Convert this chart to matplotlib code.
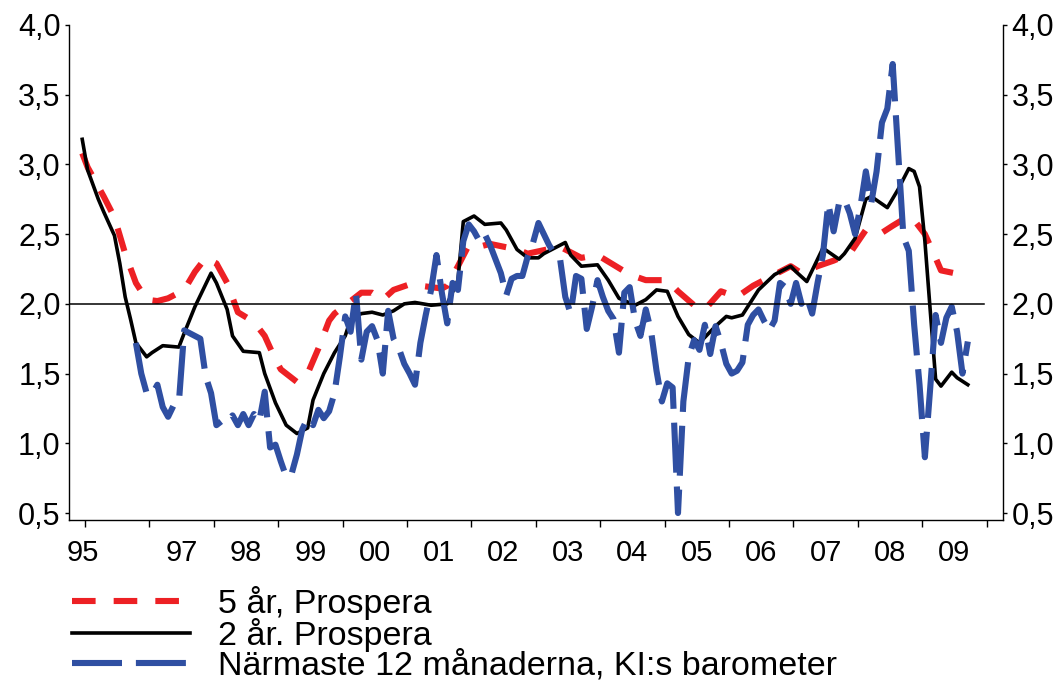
import matplotlib
matplotlib.use("Agg")
import matplotlib.pyplot as plt
from matplotlib.ticker import FixedLocator

plt.rcParams.update({
    "font.family": ["Liberation Sans", "DejaVu Sans"],
    "lines.scale_dashes": False,
})

RED = "#ED2024"
BLUE = "#2F4FA2"
BLACK = "#000000"

# ── Series (monthly observations, "YYYY-MM") ────────────────────────────────
# 5-year expectations, Prospera
red_dates = ["1995-12", "1996-01", "1996-04", "1996-06", "1996-08", "1996-10", "1996-12",
             "1997-02", "1997-04", "1997-07", "1997-09", "1997-11", "1998-01", "1998-03",
             "1998-05", "1998-08", "1998-10", "1998-12", "1999-01", "1999-04", "1999-06",
             "1999-08", "1999-10", "1999-11", "2000-01", "2000-04", "2000-06", "2000-08",
             "2000-10", "2001-01", "2001-07", "2001-08", "2001-10", "2001-12", "2002-02",
             "2002-04", "2002-09", "2002-11", "2003-05", "2003-09", "2003-12", "2004-06",
             "2004-09", "2005-01", "2005-03", "2005-06", "2005-08", "2005-11", "2006-02",
             "2006-05", "2006-08", "2006-12", "2007-02", "2007-05", "2007-08", "2007-11",
             "2008-02", "2008-05", "2008-07", "2008-10", "2008-11", "2009-01", "2009-03",
             "2009-04", "2009-09"]
red_vals = [3.08, 2.98, 2.77, 2.62, 2.36, 2.15, 2.03,
            2.02, 2.04, 2.10, 2.23, 2.33, 2.29, 2.15,
            1.94, 1.87, 1.77, 1.60, 1.53, 1.44, 1.50,
            1.68, 1.88, 1.93, 1.99, 2.08, 2.08, 2.03,
            2.10, 2.14, 2.11, 2.13, 2.27, 2.42, 2.41,
            2.43, 2.39, 2.36, 2.41, 2.33, 2.35, 2.21,
            2.17, 2.17, 2.09, 1.99, 1.96, 2.09, 2.05,
            2.13, 2.19, 2.27, 2.22, 2.27, 2.31, 2.36,
            2.53, 2.51, 2.56, 2.63, 2.60, 2.50, 2.33,
            2.24, 2.20]

# 2-year expectations, Prospera
black_dates = ["1995-12", "1996-01", "1996-03", "1996-04", "1996-06", "1996-07", "1996-08",
               "1996-09", "1996-10", "1996-12", "1997-01", "1997-03", "1997-06", "1997-07",
               "1997-09", "1997-12", "1998-01", "1998-03", "1998-04", "1998-06", "1998-09",
               "1998-10", "1998-12", "1999-02", "1999-04", "1999-06", "1999-07", "1999-09",
               "1999-11", "2000-01", "2000-02", "2000-04", "2000-06", "2000-08", "2000-10",
               "2000-12", "2001-02", "2001-05", "2001-08", "2001-10", "2001-11", "2002-01",
               "2002-03", "2002-06", "2002-07", "2002-09", "2002-11", "2003-01", "2003-02",
               "2003-04", "2003-06", "2003-07", "2003-09", "2003-12", "2004-02", "2004-04",
               "2004-07", "2004-09", "2004-11", "2005-01", "2005-03", "2005-05", "2005-07",
               "2005-10", "2005-12", "2006-01", "2006-03", "2006-06", "2006-09", "2006-12",
               "2007-01", "2007-03", "2007-06", "2007-09", "2007-10", "2007-12", "2008-02",
               "2008-03", "2008-06", "2008-08", "2008-10", "2008-11", "2008-12", "2009-01",
               "2009-02", "2009-03", "2009-04", "2009-06", "2009-07", "2009-09"]
black_vals = [3.18, 2.96, 2.75, 2.66, 2.49, 2.29, 2.05,
              1.89, 1.72, 1.62, 1.65, 1.70, 1.69, 1.79,
              1.98, 2.22, 2.15, 1.96, 1.77, 1.66, 1.65,
              1.50, 1.29, 1.13, 1.07, 1.11, 1.31, 1.50,
              1.65, 1.77, 1.89, 1.93, 1.94, 1.92, 1.95,
              2.00, 2.01, 1.99, 2.00, 2.17, 2.59, 2.63,
              2.57, 2.58, 2.53, 2.39, 2.33, 2.33, 2.36,
              2.40, 2.44, 2.35, 2.27, 2.28, 2.17, 2.04,
              1.99, 2.03, 2.10, 2.09, 1.91, 1.78, 1.72,
              1.84, 1.91, 1.90, 1.92, 2.10, 2.21, 2.27,
              2.23, 2.16, 2.40, 2.32, 2.36, 2.47, 2.75,
              2.77, 2.69, 2.82, 2.97, 2.95, 2.84, 2.45,
              1.95, 1.46, 1.41, 1.51, 1.47, 1.42]

# Next 12 months, KI household barometer (every month from blue_start)
blue_start = "1996-10"
blue_vals = [
    1.72, 1.50, 1.36,                                                        # 1996 Oct-Dec
    1.35, 1.42, 1.26, 1.19, 1.27, 1.29, 1.81, 1.79, 1.77, 1.75, 1.48, 1.36,  # 1997
    1.13, 1.16, 1.15, 1.20, 1.13, 1.21, 1.13, 1.21, 1.16, 1.37, 0.97, 0.99,  # 1998
    0.87, 0.76, 0.78, 0.92, 1.10, 1.18, 1.13, 1.24, 1.18, 1.23, 1.36, 1.62,  # 1999
    1.91, 1.80, 2.08, 1.60, 1.80, 1.84, 1.74, 1.50, 1.95, 1.75, 1.68, 1.57,  # 2000
    1.50, 1.42, 1.72, 1.92, 2.10, 2.35, 2.08, 1.86, 2.15, 2.10, 2.45, 2.57,  # 2001
    2.52, 2.45, 2.50, 2.42, 2.32, 2.22, 2.06, 2.18, 2.20, 2.20, 2.34, 2.44,  # 2002
    2.58, 2.50, 2.42, 2.36, 2.33, 2.05, 1.93, 2.20, 2.18, 1.82, 1.98, 2.17,  # 2003
    2.05, 1.95, 1.89, 1.65, 2.08, 2.12, 1.88, 1.77, 1.96, 1.80, 1.52, 1.30,  # 2004
    1.43, 1.40, 0.50, 1.30, 1.62, 1.74, 1.67, 1.85, 1.64, 1.84, 1.72, 1.57,  # 2005
    1.50, 1.52, 1.58, 1.85, 1.92, 1.96, 1.88, 1.81, 1.88, 2.15, 2.12, 2.00,  # 2006
    2.15, 2.00, 2.05, 1.93, 2.15, 2.35, 2.72, 2.52, 2.72, 2.75, 2.65, 2.50,  # 2007
    2.70, 2.95, 2.72, 2.95, 3.30, 3.40, 3.72, 3.10, 2.48, 2.38, 1.85, 1.42,  # 2008
    0.90, 1.40, 1.92, 1.72, 1.90, 1.98, 1.80, 1.50, 1.73,                    # 2009 Jan-Sep
]

# Inflation target
target_dates = ["1995-09", "2009-12"]
target_vals = [2.0, 2.0]

labels = ["5 år, Prospera", "2 år. Prospera", "Närmaste 12 månaderna, KI:s barometer"]

y_ticks = [0.5, 1.0, 1.5, 2.0, 2.5, 3.0, 3.5, 4.0]
y_ticklabels = ["0,5", "1,0", "1,5", "2,0", "2,5", "3,0", "3,5", "4,0"]
year_ticks = list(range(1996, 2011))
year_labels = ["95", "97", "98", "99", "00", "01", "02", "03", "04", "05", "06", "07", "08", "09"]
year_label_years = [1995, 1997, 1998, 1999, 2000, 2001, 2002, 2003, 2004, 2005, 2006, 2007, 2008, 2009]


def month_pos(d):
    """Decimal-year position of the middle of month 'YYYY-MM'."""
    y, m = d.split("-")
    return int(y) + (int(m) - 0.5) / 12


fig = plt.figure(figsize=(10.64, 6.86), dpi=100)
ax = fig.add_axes([0.0648, 0.242, 0.8779, 0.7216])

red_x = [month_pos(d) for d in red_dates]
black_x = [month_pos(d) for d in black_dates]
blue_x = [month_pos(blue_start) + i / 12 for i in range(len(blue_vals))]
target_x = [month_pos(d) for d in target_dates]

l_red, = ax.plot(red_x, red_vals, color=RED, lw=4.4, dashes=(17, 13), zorder=2)
l_black, = ax.plot(black_x, black_vals, color=BLACK, lw=2.6, zorder=3)
l_blue, = ax.plot(blue_x, blue_vals, color=BLUE, lw=4.4, dashes=(36, 10), zorder=4)
ax.plot(target_x, target_vals, color=BLACK, lw=1.1, zorder=5)

ax.set_xlim(1995.752, 2010.255)
ax.set_ylim(0.45, 4.0)

# Year ticks on the boundaries, labels centred on each year
ax.xaxis.set_major_locator(FixedLocator(year_ticks))
ax.set_xticklabels([""] * len(year_ticks))
label_pos = [y + 0.5 if y > 1995 else 1995.97 for y in year_label_years]
ax.set_xticks(label_pos, year_labels, minor=True)
ax.tick_params(axis="x", which="major", direction="out", length=5, width=1)
ax.tick_params(axis="x", which="minor", length=0, pad=14, labelsize=21)

ax.set_yticks(y_ticks, y_ticklabels)
ax.tick_params(axis="y", which="both", direction="out", length=3, width=1,
               left=True, right=True, labelleft=True, labelright=True,
               labelsize=22, pad=3)

ax.spines["top"].set_visible(False)
for side in ("left", "right", "bottom"):
    ax.spines[side].set_linewidth(1.0)
    ax.spines[side].set_color(BLACK)

fig.legend([l_red, l_black, l_blue], labels, loc="upper left",
           bbox_to_anchor=(0.068, 0.146), frameon=False, fontsize=24.5,
           handlelength=3.45, handletextpad=0.82, labelspacing=-0.05,
           borderpad=0, borderaxespad=0)

fig.savefig("out.png", dpi=100)
